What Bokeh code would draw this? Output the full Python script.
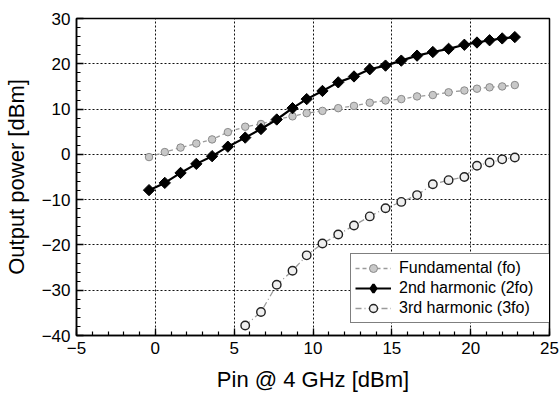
import numpy as np
from bokeh.plotting import figure
from bokeh.models import Range1d, FixedTicker, Legend, LegendItem
from bokeh.embed import file_html
from bokeh.resources import INLINE

# ---- data ----
pin = [-0.4, 0.6, 1.6, 2.6, 3.6, 4.6, 5.7, 6.7, 7.7, 8.7, 9.6, 10.6, 11.6, 12.6,
       13.6, 14.6, 15.6, 16.6, 17.6, 18.6, 19.6, 20.4, 21.2, 22.0, 22.8]
fundamental = [-0.6, 0.5, 1.5, 2.4, 3.3, 4.9, 6.1, 6.7, 7.7, 8.4, 9.1, 9.6, 10.2, 10.7,
               11.4, 11.9, 12.2, 12.8, 13.1, 13.7, 14.1, 14.5, 14.8, 15.0, 15.3]
second = [-7.9, -6.3, -4.1, -2.1, -0.4, 1.7, 3.7, 5.6, 7.7, 10.2, 12.2, 14.0, 15.9, 17.2,
          18.8, 19.6, 20.7, 21.8, 22.6, 23.3, 24.2, 24.7, 25.2, 25.6, 25.9]
pin_3rd = [5.7, 6.7, 7.7, 8.7, 9.6, 10.6, 11.6, 12.6, 13.6, 14.6, 15.6, 16.6, 17.6,
           18.6, 19.6, 20.4, 21.2, 22.0, 22.8]
third = [-37.8, -34.8, -28.8, -25.7, -22.3, -19.7, -17.7, -15.7, -13.7, -11.9, -10.5,
         -9.0, -6.6, -5.7, -5.0, -2.5, -1.8, -1.1, -0.7]

x_ticks = [-5, 0, 5, 10, 15, 20, 25]
y_ticks = [-40, -30, -20, -10, 0, 10, 20, 30]
labels = ["Fundamental (fo)", "2nd harmonic (2fo)", "3rd harmonic (3fo)"]

FONT = "Liberation Sans"

p = figure(width=559, height=395, output_backend="svg", toolbar_location=None,
           x_range=Range1d(-5, 25), y_range=Range1d(-40, 30),
           min_border_left=76, min_border_right=10, min_border_top=18, min_border_bottom=60)
p.background_fill_color = "white"
p.border_fill_color = "white"
p.outline_line_color = "black"
p.outline_line_width = 1.5
p.outline_line_alpha = 1.0
# an off-screen range used only for the legend's diamond key
p.extra_x_ranges = {"key": Range1d(1000, 1001)}

p.xaxis.ticker = FixedTicker(ticks=x_ticks, minor_ticks=list(range(-5, 26)))
p.yaxis.ticker = FixedTicker(ticks=y_ticks, minor_ticks=list(range(-40, 31, 2)))

for ax in (p.xaxis[0], p.yaxis[0]):
    ax.axis_line_color = "black"
    ax.axis_line_width = 1.5
    ax.major_tick_in = 7
    ax.major_tick_out = 0
    ax.minor_tick_in = 4
    ax.minor_tick_out = 0
    ax.major_tick_line_color = "black"
    ax.major_tick_line_width = 1.3
    ax.minor_tick_line_color = "black"
    ax.minor_tick_line_width = 1.2
    ax.major_label_text_font = FONT
    ax.major_label_text_font_size = "17px"
    ax.major_label_text_color = "black"
    ax.axis_label_text_font = FONT
    ax.axis_label_text_font_size = "22px"
    ax.axis_label_text_font_style = "normal"
    ax.axis_label_text_color = "black"

p.xaxis.axis_label = "Pin @ 4 GHz [dBm]"
p.yaxis.axis_label = "Output power [dBm]"
p.xaxis.major_label_standoff = 6
p.yaxis.major_label_standoff = 6
p.xaxis.axis_label_standoff = 10
p.yaxis.axis_label_standoff = 10

for g in (p.xgrid[0], p.ygrid[0]):
    g.grid_line_color = "#111111"
    g.grid_line_dash = "2 2"
    g.grid_line_width = 1
    g.grid_line_alpha = 1.0

# Fundamental
l1 = p.line(pin, fundamental, line_color="#9a9a9a", line_width=1.3, line_dash="4 3")
m1 = p.scatter(pin, fundamental, marker="circle", size=7.5, fill_color="#c8c8c8",
               line_color="#8a8a8a", line_width=1)
# 2nd harmonic
l2 = p.line(pin, second, line_color="black", line_width=2.2)
m2 = p.scatter(pin, second, marker="square", angle=np.pi / 4, size=8,
               fill_color="black", line_color="black", line_width=1)
# legend-only diamond key (its single point lies on an off-screen range)
m2_key = p.scatter(pin[:1], second[:1], marker="diamond", size=10, x_range_name="key",
                   fill_color="black", line_color="black", line_width=2.5)
# 3rd harmonic
l3 = p.line(pin_3rd, third, line_color="#9a9a9a", line_width=1.3, line_dash="6 3 1 3")
m3 = p.scatter(pin_3rd, third, marker="circle", size=8.5, fill_color="#f0f0f0",
               line_color="#222222", line_width=1.4)

legend = Legend(items=[LegendItem(label=labels[0], renderers=[l1, m1]),
                       LegendItem(label=labels[1], renderers=[l2, m2_key]),
                       LegendItem(label=labels[2], renderers=[l3, m3])],
                location=(274, 12))
legend.border_line_color = "black"
legend.border_line_width = 1.5
legend.background_fill_color = "white"
legend.background_fill_alpha = 1.0
legend.label_text_font = FONT
legend.label_text_font_size = "16px"
legend.label_text_color = "black"
legend.padding = 4
legend.spacing = 0
legend.margin = 0
legend.label_height = 20
legend.glyph_height = 20
legend.glyph_width = 36
legend.label_standoff = 8
legend.label_width = 148
p.add_layout(legend, "center")

open("out.html", "w").write(file_html(p, INLINE))
